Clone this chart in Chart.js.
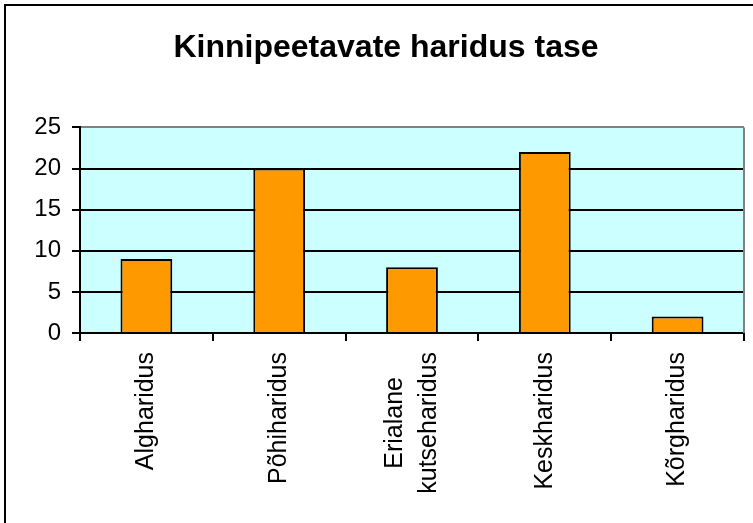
<!DOCTYPE html>
<html>
<head>
<meta charset="utf-8">
<script src="https://cdn.jsdelivr.net/npm/chart.js@4.4.1/dist/chart.umd.min.js"></script>
<style>
  body { margin: 0; background: #fff; overflow: hidden; }
  #wrap { position: absolute; left: 4px; top: 4px; width: 747px; height: 517px; border-top: 2px solid #000; border-left: 2px solid #000; }
</style>
</head>
<body>
<div id="wrap"><canvas id="eduChart" width="747" height="517"></canvas></div>
<script>
var labels = ["Algharidus", "Põhiharidus", ["Erialane", "kutseharidus"], "Keskharidus", "Kõrgharidus"];
var counts = [9, 20, 8, 22, 2];
var yTicks = [0, 5, 10, 15, 20, 25];

// cyan plot background and grey right edge, like the old spreadsheet chart
var plotArea = {
    id: 'plotArea',
    beforeDraw: function (chart) {
        var a = chart.chartArea, ctx = chart.ctx;
        ctx.save();
        ctx.fillStyle = '#CCFFFF';
        ctx.fillRect(a.left, a.top, a.right - a.left, a.bottom - a.top);
        ctx.restore();

        // two-line rotated labels: center the lines on the tick, like the original
        var items = chart.scales.x.getLabelItems();
        items.forEach(function (item) {
            if (!Array.isArray(item.label) || item._centered) return;
            ctx.save();
            ctx.font = item.font.string;
            var w = 0;
            item.label.forEach(function (s) { w = Math.max(w, ctx.measureText(s).width); });
            ctx.restore();
            var lh = item.font.lineHeight;
            item.textOffset -= lh * (item.label.length - 1) / 2;
            item.options.textAlign = 'center';
            item.options.translation = [item.options.translation[0], item.options.translation[1] + w / 2];
            item._centered = true;
        });
    },
    afterDatasetsDraw: function (chart) {
        var a = chart.chartArea, ctx = chart.ctx;
        ctx.save();
        ctx.strokeStyle = '#808080';
        ctx.lineWidth = 2;
        ctx.beginPath();
        ctx.moveTo(a.right, a.top);
        ctx.lineTo(a.right, a.bottom);
        ctx.stroke();
        ctx.restore();
    }
};

Chart.defaults.font.family = "'Liberation Sans', Arial, sans-serif";
Chart.defaults.color = '#000';

new Chart("eduChart", {
    type: 'bar',
    data: {
        labels: labels,
        datasets: [{
            data: counts,
            backgroundColor: '#FF9900',
            borderColor: '#000',
            borderWidth: 2,
            categoryPercentage: 1,
            barPercentage: 0.39
        }]
    },
    options: {
        responsive: false,
        animation: false,
        layout: { padding: { left: 22, right: 9, top: 0, bottom: 0 } },
        plugins: {
            legend: { display: false },
            tooltip: { enabled: false },
            title: {
                display: true,
                text: 'Kinnipeetavate haridus tase',
                font: { size: 32, weight: 'bold' },
                padding: { top: 23, bottom: 60 }
            }
        },
        scales: {
            x: {
                afterFit: function (scale) { scale.height = 190; },
                grid: { drawOnChartArea: false, color: '#000', lineWidth: 2, tickLength: 8 },
                border: { color: '#000', width: 2 },
                ticks: {
                    font: { size: 25, lineHeight: 1.35 },
                    minRotation: 90,
                    maxRotation: 90,
                    padding: 11,
                    autoSkip: false
                }
            },
            y: {
                min: 0,
                max: 25,
                afterFit: function (scale) { scale.width = 52; },
                afterBuildTicks: function (scale) {
                    scale.ticks = yTicks.map(function (v) { return { value: v }; });
                },
                grid: {
                    color: function (c) { return c.tick && c.tick.value === 25 ? '#808080' : '#000'; },
                    tickColor: '#000',
                    lineWidth: 2,
                    tickLength: 8
                },
                border: { color: '#000', width: 2 },
                ticks: { font: { size: 24 }, padding: 11 }
            }
        }
    },
    plugins: [plotArea]
});
</script>
</body>
</html>
